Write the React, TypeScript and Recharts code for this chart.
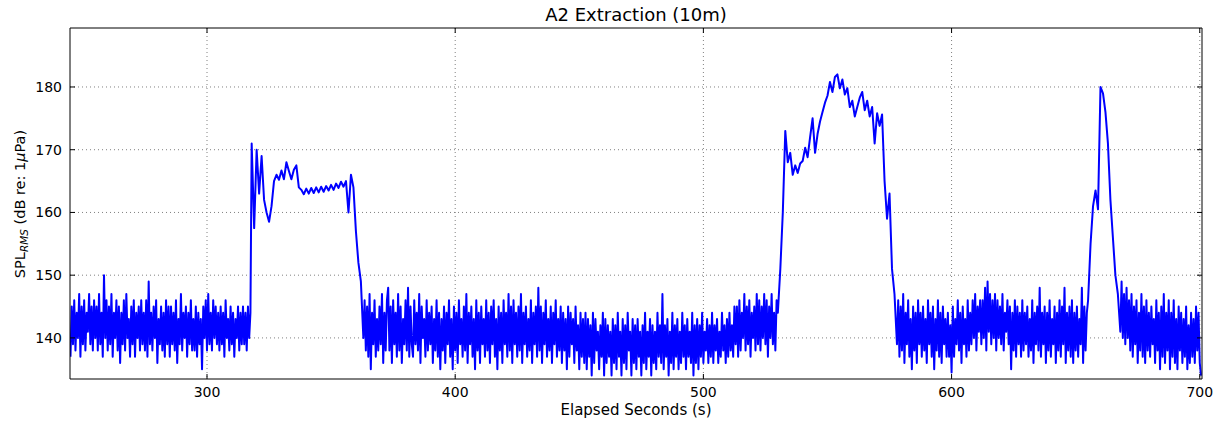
import React from "react";
import { LineChart, Line, XAxis, YAxis, CartesianGrid } from "recharts";

// ---------- text ----------
const chartTitle = "A2 Extraction (10m)";
const xAxisLabel = "Elapsed Seconds (s)";

// ---------- axes ----------
const xTicks = [300, 400, 500, 600, 700];
const yTicks = [140, 150, 160, 170, 180];
const xDomain: [number, number] = [244.8, 700.9];
const yDomain: [number, number] = [133.45, 189.4];

// ---------- data: SPL RMS (dB re 1 µPa) ----------
// background noise, sampled every 0.5 s
// 245.0 – 317.5 s
const quietA = [
  137, 145, 139, 146, 138, 144, 140, 147, 137, 145, 139, 146, 138, 144, 141, 147, 139, 145, 138, 146,
  140, 145, 138, 147, 139, 144, 137, 150, 140, 146, 138, 145, 139, 147, 137, 144, 140, 146, 138, 145,
  136, 144, 139, 146, 138, 147, 140, 143, 137, 145, 139, 146, 137, 144, 140, 145, 138, 146, 139, 144,
  138, 146, 137, 149, 139, 144, 138, 145, 140, 146, 136, 143, 139, 145, 138, 144, 137, 146, 139, 145,
  137, 145, 139, 144, 138, 146, 136, 143, 139, 147, 138, 144, 140, 145, 137, 144, 139, 146, 138, 143,
  138, 145, 137, 144, 139, 143, 135, 145, 140, 146, 138, 147, 139, 144, 138, 146, 140, 145, 139, 144,
  138, 145, 139, 144, 137, 146, 140, 143, 138, 145, 139, 144, 137, 143, 140, 145, 138, 144, 139, 145,
  139, 144, 138, 145, 140, 144,
];

// first event, sampled every 1 s: 318 – 362 s
const event1 = [
  171, 157.5, 170, 163, 169, 162, 160, 158.5, 161, 165,
  166, 165.2, 166.7, 165.3, 168, 166.6, 165.3, 166.8, 167.5, 164,
  163.6, 162.9, 163.8, 163, 163.9, 163.1, 164, 163.2, 164.1, 163.3,
  164.2, 163.5, 164.4, 163.6, 164.6, 163.9, 164.9, 164.1, 165, 160,
  166, 164, 157, 152, 149,
];

// background, every 0.5 s: 363.0 – 529.5 s
const quietB = [
  140, 146, 138, 145, 137, 147, 135, 144, 139, 146, 137, 143, 138, 145, 139, 147, 136, 144, 138, 146,
  148, 138, 145, 136, 146, 139, 144, 137, 147, 138, 145, 136, 143, 139, 146, 138, 148, 137, 145, 139,
  137, 146, 139, 144, 138, 147, 136, 145, 140, 143, 137, 146, 138, 144, 139, 145, 136, 143, 138, 146,
  137, 144, 135, 143, 138, 145, 136, 144, 139, 146, 137, 143, 135, 145, 138, 144, 136, 146, 139, 143,
  137, 145, 138, 147, 136, 144, 139, 145, 137, 143, 135, 146, 138, 144, 136, 145, 139, 143, 137, 146,
  138, 144, 136, 145, 139, 146, 137, 143, 135, 145, 138, 144, 136, 146, 139, 144, 137, 147, 138, 145,
  136, 146, 139, 144, 137, 145, 138, 147, 136, 144, 139, 145, 137, 143, 138, 146, 136, 144, 139, 145,
  137, 148, 138, 145, 136, 144, 139, 146, 137, 143, 138, 145, 136, 144, 139, 146, 137, 143, 138, 145,
  136, 144, 138, 143, 135, 145, 137, 144, 139, 143, 136, 145, 138, 142, 135, 144, 137, 143, 136, 144,
  135, 143, 137, 142, 134, 144, 136, 143, 138, 141, 135, 142, 137, 144, 134, 143, 136, 142, 137, 141,
  134, 143, 136, 142, 135, 144, 137, 141, 134, 143, 136, 142, 135, 144, 138, 141, 134, 143, 136, 142,
  135, 143, 137, 141, 134, 142, 136, 144, 135, 141, 137, 143, 134, 142, 136, 141, 135, 144, 137, 142,
  136, 147, 135, 142, 137, 143, 134, 141, 136, 144, 135, 142, 137, 143, 135, 141, 136, 144, 137, 142,
  135, 143, 137, 141, 136, 144, 134, 142, 136, 143, 135, 142, 137, 144, 136, 141, 138, 143, 136, 142,
  137, 144, 136, 142, 138, 143, 136, 141, 137, 144, 138, 142, 136, 143, 137, 144, 138, 142, 137, 145,
  139, 145, 137, 146, 138, 144, 140, 147, 138, 145, 139, 146, 137, 144, 140, 145, 138, 147, 139, 146,
  138, 145, 140, 147, 139, 146, 137, 145, 140, 147, 139, 144, 138, 146,
];

// second event, every 1 s: 530 – 577 s
const event2 = [
  144, 151, 160, 173, 168, 169.5, 166, 167.5, 166.3, 167.8,
  168.2, 170.3, 168.8, 172, 175, 169.5, 172.5, 174.5, 176, 177.5,
  178.6, 180.8, 179.2, 181.6, 182, 179.8, 181.2, 178.8, 179.8, 176.8,
  177.8, 175.3, 176.8, 178.3, 179.2, 176.3, 177.8, 175.3, 176.8, 171,
  175.8, 173.8, 175.6, 165, 159, 163, 151, 147,
];

// background, every 0.5 s: 578.0 – 654.5 s
const quietC = [
  139, 146, 137, 145, 138, 147, 136, 144, 139, 146, 137, 143, 135, 145, 138, 144, 136, 146, 139, 144,
  137, 145, 138, 143, 136, 146, 139, 144, 137, 145, 135, 143, 138, 146, 137, 144, 136, 145, 139, 143,
  137, 144, 137, 142, 134.5, 145, 137, 143, 139, 146, 138, 144, 136, 145, 139, 143, 137, 146, 138, 144,
  139, 146, 140, 147, 138, 145, 141, 146, 139, 146, 140, 148, 138, 149, 141, 147, 139, 146, 140, 147,
  138, 146, 140, 145, 139, 147, 138, 144, 141, 146, 139, 145, 135, 144, 138, 146, 137, 145, 139, 144,
  137, 146, 138, 144, 139, 145, 137, 143, 138, 146, 136, 144, 139, 145, 138, 148, 137, 144, 139, 145,
  136, 144, 138, 146, 137, 143, 139, 145, 136, 144, 138, 146, 137, 145, 139, 148, 136, 144, 138, 145,
  137, 146, 136, 144, 138, 145, 137, 143, 139, 148, 136, 145, 138, 144,
];

// third event, every 1 s: 655 – 667 s
const event3 = [146, 155, 161, 163.5, 160.5, 180, 179, 176, 171, 162, 156, 150, 147];

// background, every 0.5 s: 668.0 – 700.5 s
const quietD = [
  141, 149, 140, 147, 139, 148, 140, 146, 138, 147, 137, 145, 139, 146, 136, 144, 138, 147, 137, 145,
  136, 146, 138, 144, 137, 145, 139, 143, 136, 146, 138, 144, 135, 145, 137, 147, 136, 144, 138, 146,
  135, 144, 137, 146, 136, 143, 135, 145, 138, 144, 136, 143, 137, 145, 135, 142, 136, 144, 137, 143,
  136, 145, 138, 144, 136, 134,
];

const segments = [
  { start: 245, step: 0.5, values: quietA },
  { start: 318, step: 1, values: event1 },
  { start: 363, step: 0.5, values: quietB },
  { start: 530, step: 1, values: event2 },
  { start: 578, step: 0.5, values: quietC },
  { start: 655, step: 1, values: event3 },
  { start: 668, step: 0.5, values: quietD },
];

const data = segments.flatMap((s) =>
  s.values.map((v, i) => ({ t: s.start + i * s.step, spl: v }))
);

// ---------- styling ----------
const FONT = "'DejaVu Sans', 'Bitstream Vera Sans', sans-serif";
const TICK_LEN = 5;
const TICK_FONT = 14;

const BottomTick = (props: any) => {
  const { x, y, payload } = props;
  return (
    <g>
      <line x1={x} x2={x} y1={y} y2={y - TICK_LEN} stroke="#000" strokeWidth={1} />
      <text x={x} y={y + 18} textAnchor="middle" fontSize={TICK_FONT} fontFamily={FONT} fill="#000">
        {payload.value}
      </text>
    </g>
  );
};

const TopTick = (props: any) => {
  const { x, y } = props;
  return <line x1={x} x2={x} y1={y} y2={y + TICK_LEN} stroke="#000" strokeWidth={1} />;
};

const LeftTick = (props: any) => {
  const { x, y, payload } = props;
  return (
    <g>
      <line x1={x} x2={x + TICK_LEN} y1={y} y2={y} stroke="#000" strokeWidth={1} />
      <text x={x - 8} y={y} dy="0.36em" textAnchor="end" fontSize={TICK_FONT} fontFamily={FONT} fill="#000">
        {payload.value}
      </text>
    </g>
  );
};

const RightTick = (props: any) => {
  const { x, y } = props;
  return <line x1={x} x2={x - TICK_LEN} y1={y} y2={y} stroke="#000" strokeWidth={1} />;
};

export default function App() {
  return (
    <div style={{ position: "relative", width: 1220, height: 423, background: "#fff" }}>
      <style>{`body{margin:0;overflow:hidden;background:#fff}`}</style>
      <LineChart
        width={1220}
        height={423}
        data={data}
        margin={{ top: 27, right: 17, bottom: 0, left: 0 }}
      >
        <CartesianGrid
          stroke="#808080"
          strokeWidth={1}
          strokeDasharray="1 3"
          horizontalValues={yTicks}
          verticalValues={xTicks}
        />
        <XAxis
          dataKey="t"
          type="number"
          domain={xDomain}
          ticks={xTicks}
          allowDataOverflow
          height={44}
          tickSize={0}
          tickMargin={0}
          tickLine={false}
          axisLine={{ stroke: "#000", strokeWidth: 1 }}
          tick={<BottomTick />}
          interval={0}
        />
        <XAxis
          xAxisId="top"
          orientation="top"
          dataKey="t"
          type="number"
          domain={xDomain}
          ticks={xTicks}
          allowDataOverflow
          height={1}
          tickSize={0}
          tickMargin={0}
          tickLine={false}
          axisLine={{ stroke: "#000", strokeWidth: 1 }}
          tick={<TopTick />}
          interval={0}
        />
        <YAxis
          type="number"
          domain={yDomain}
          ticks={yTicks}
          allowDataOverflow
          width={70}
          tickSize={0}
          tickMargin={0}
          tickLine={false}
          axisLine={{ stroke: "#000", strokeWidth: 1 }}
          tick={<LeftTick />}
          interval={0}
        />
        <YAxis
          yAxisId="right"
          orientation="right"
          type="number"
          domain={yDomain}
          ticks={yTicks}
          allowDataOverflow
          width={1}
          tickSize={0}
          tickMargin={0}
          tickLine={false}
          axisLine={{ stroke: "#000", strokeWidth: 1 }}
          tick={<RightTick />}
          interval={0}
        />
        <Line
          xAxisId="top"
          yAxisId="right"
          type="linear"
          dataKey="spl"
          stroke="none"
          strokeWidth={0}
          dot={false}
          activeDot={false}
          legendType="none"
          isAnimationActive={false}
        />
        <Line
          type="linear"
          dataKey="spl"
          stroke="#0000ff"
          strokeWidth={2}
          strokeLinejoin="round"
          dot={false}
          activeDot={false}
          isAnimationActive={false}
        />
      </LineChart>
      <svg
        width={1220}
        height={423}
        style={{ position: "absolute", left: 0, top: 0, pointerEvents: "none" }}
      >
        <text x={636} y={21} textAnchor="middle" fontSize={18} fontFamily={FONT} fill="#000">
          {chartTitle}
        </text>
        <text x={636} y={415} textAnchor="middle" fontSize={15} fontFamily={FONT} fill="#000">
          {xAxisLabel}
        </text>
        <text
          transform="translate(25,204) rotate(-90)"
          textAnchor="middle"
          fontSize={14.5}
          fontFamily={FONT}
          fill="#000"
        >
          SPL
          <tspan fontSize={10.5} fontStyle="italic" dy={3}>RMS</tspan>
          <tspan dy={-3}> (dB re: 1</tspan>
          <tspan fontStyle="italic">μ</tspan>
          <tspan>Pa)</tspan>
        </text>
      </svg>
    </div>
  );
}
